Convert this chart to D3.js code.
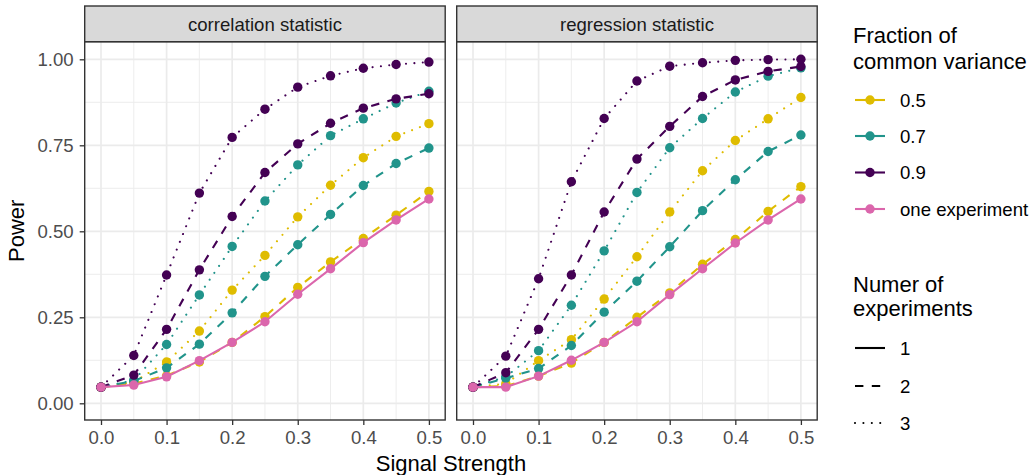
<!DOCTYPE html>
<html>
<head>
<meta charset="utf-8">
<script src="https://cdn.jsdelivr.net/npm/d3@7"></script>
<style>
  body { margin: 0; background: #fff; }
  text { font-family: "Liberation Sans", Arial, sans-serif; }
</style>
</head>
<body>
<svg id="chart" width="1036" height="475" viewBox="0 0 1036 475"></svg>
<script>
// x values (signal strength)
const signal = [0, 0.05, 0.1, 0.15, 0.2, 0.25, 0.3, 0.35, 0.4, 0.45, 0.5];
const panels = ["correlation statistic", "regression statistic"];
const fractions = ["0.5", "0.7", "0.9", "one experiment"];
const fractionColors = ["#DFBC00", "#21948B", "#440154", "#DB66AC"];
const experiments = ["1", "2", "3"];
const yTicks = [0, 0.25, 0.5, 0.75, 1];
const xTicks = [0, 0.1, 0.2, 0.3, 0.4, 0.5];

// correlation statistic
const corr_f05_e2 = [0.047, 0.057, 0.080, 0.120, 0.177, 0.252, 0.337, 0.411, 0.479, 0.547, 0.616];
const corr_f05_e3 = [0.047, 0.062, 0.120, 0.210, 0.329, 0.430, 0.542, 0.634, 0.714, 0.776, 0.813];
const corr_f07_e2 = [0.047, 0.065, 0.103, 0.172, 0.263, 0.369, 0.461, 0.549, 0.633, 0.697, 0.742];
const corr_f07_e3 = [0.047, 0.067, 0.171, 0.315, 0.456, 0.588, 0.693, 0.778, 0.827, 0.873, 0.907];
const corr_f09_e2 = [0.047, 0.082, 0.215, 0.388, 0.543, 0.671, 0.754, 0.814, 0.858, 0.885, 0.900];
const corr_f09_e3 = [0.047, 0.139, 0.373, 0.611, 0.773, 0.855, 0.919, 0.952, 0.974, 0.985, 0.992];
const corr_one_e1 = [0.047, 0.053, 0.077, 0.124, 0.177, 0.237, 0.317, 0.391, 0.467, 0.533, 0.594];

// regression statistic
const regr_f05_e2 = [0.047, 0.050, 0.079, 0.117, 0.177, 0.250, 0.321, 0.404, 0.476, 0.558, 0.630];
const regr_f05_e3 = [0.047, 0.057, 0.124, 0.185, 0.303, 0.426, 0.556, 0.676, 0.764, 0.827, 0.889];
const regr_f07_e2 = [0.047, 0.073, 0.101, 0.168, 0.265, 0.355, 0.455, 0.560, 0.650, 0.732, 0.780];
const regr_f07_e3 = [0.047, 0.077, 0.153, 0.285, 0.443, 0.613, 0.743, 0.828, 0.905, 0.951, 0.975];
const regr_f09_e2 = [0.047, 0.089, 0.215, 0.373, 0.556, 0.710, 0.805, 0.892, 0.940, 0.965, 0.979];
const regr_f09_e3 = [0.047, 0.137, 0.362, 0.644, 0.828, 0.937, 0.980, 0.990, 0.997, 0.999, 1.000];
const regr_one_e1 = [0.047, 0.047, 0.079, 0.125, 0.177, 0.237, 0.316, 0.391, 0.466, 0.533, 0.594];

// draw order follows ggplot grouping
const series = [
  {panel: 0, fraction: "0.5", exp: "2", values: corr_f05_e2},
  {panel: 0, fraction: "0.5", exp: "3", values: corr_f05_e3},
  {panel: 0, fraction: "0.7", exp: "2", values: corr_f07_e2},
  {panel: 0, fraction: "0.7", exp: "3", values: corr_f07_e3},
  {panel: 0, fraction: "0.9", exp: "2", values: corr_f09_e2},
  {panel: 0, fraction: "0.9", exp: "3", values: corr_f09_e3},
  {panel: 0, fraction: "one experiment", exp: "1", values: corr_one_e1},
  {panel: 1, fraction: "0.5", exp: "2", values: regr_f05_e2},
  {panel: 1, fraction: "0.5", exp: "3", values: regr_f05_e3},
  {panel: 1, fraction: "0.7", exp: "2", values: regr_f07_e2},
  {panel: 1, fraction: "0.7", exp: "3", values: regr_f07_e3},
  {panel: 1, fraction: "0.9", exp: "2", values: regr_f09_e2},
  {panel: 1, fraction: "0.9", exp: "3", values: regr_f09_e3},
  {panel: 1, fraction: "one experiment", exp: "1", values: regr_one_e1}
];

const svg = d3.select("#chart");

const lw = 2.1;
const smallFont = 18.6, titleFont = 22;

let color = d3.scaleOrdinal().domain(fractions).range(fractionColors);
let dash = d3.scaleOrdinal().domain(experiments)
    .range(["none", `${4 * lw},${4 * lw}`, `${lw},${3 * lw}`]);

// panel geometry
const panelLeft = [84.7, 456.7];
const panelWidth = 360.5;
const panelTop = 41.7, panelBottom = 420, stripTop = 6;
const xPad = 16.3;

let y = d3.scaleLinear().domain([0, 1]).range([403.3, 59.3]);

let xScales = panelLeft.map(function(l) {
    return d3.scaleLinear().domain([0, 0.5]).range([l + xPad, l + panelWidth - xPad]);
});

let line_gen = function(x) {
    return d3.line()
        .x(function(d, i) { return x(signal[i]); })
        .y(function(d) { return y(d); });
};

panels.forEach(function(name, p) {
    let x = xScales[p];
    let left = panelLeft[p];
    let g = svg.append("g");

    // panel background + grid
    g.append("rect")
        .attr("x", left).attr("y", panelTop)
        .attr("width", panelWidth).attr("height", panelBottom - panelTop)
        .attr("fill", "#fff");

    let minorY = [0.125, 0.375, 0.625, 0.875];
    let minorX = [0.05, 0.15, 0.25, 0.35, 0.45];
    g.selectAll(".minor-y").data(minorY).enter().append("line")
        .attr("x1", left).attr("x2", left + panelWidth)
        .attr("y1", d => y(d)).attr("y2", d => y(d))
        .attr("stroke", "#EBEBEB").attr("stroke-width", 0.9);
    g.selectAll(".minor-x").data(minorX).enter().append("line")
        .attr("y1", panelTop).attr("y2", panelBottom)
        .attr("x1", d => x(d)).attr("x2", d => x(d))
        .attr("stroke", "#EBEBEB").attr("stroke-width", 0.9);
    g.selectAll(".major-y").data(yTicks).enter().append("line")
        .attr("x1", left).attr("x2", left + panelWidth)
        .attr("y1", d => y(d)).attr("y2", d => y(d))
        .attr("stroke", "#EBEBEB").attr("stroke-width", 1.7);
    g.selectAll(".major-x").data(xTicks).enter().append("line")
        .attr("y1", panelTop).attr("y2", panelBottom)
        .attr("x1", d => x(d)).attr("x2", d => x(d))
        .attr("stroke", "#EBEBEB").attr("stroke-width", 1.7);

    // data
    let sub = series.filter(s => s.panel === p);
    sub.forEach(function(s) {
        g.append("path")
            .datum(s.values)
            .attr("d", line_gen(x))
            .attr("fill", "none")
            .attr("stroke", color(s.fraction))
            .attr("stroke-width", lw)
            .attr("stroke-linecap", s.exp === "3" ? "round" : "butt")
            .attr("stroke-dasharray", s.exp === "3" ? `0.01,${4 * lw}` : dash(s.exp));
        g.selectAll(null).data(s.values).enter().append("circle")
            .attr("cx", (d, i) => x(signal[i]))
            .attr("cy", d => y(d))
            .attr("r", 4.7)
            .attr("fill", color(s.fraction));
    });

    // border
    g.append("rect")
        .attr("x", left).attr("y", panelTop)
        .attr("width", panelWidth).attr("height", panelBottom - panelTop)
        .attr("fill", "none").attr("stroke", "#333").attr("stroke-width", 1.4);

    // strip
    g.append("rect")
        .attr("x", left).attr("y", stripTop)
        .attr("width", panelWidth).attr("height", panelTop - stripTop)
        .attr("fill", "#D9D9D9").attr("stroke", "#333").attr("stroke-width", 1.4);
    g.append("text")
        .attr("x", left + panelWidth / 2).attr("y", 31)
        .attr("text-anchor", "middle")
        .attr("font-size", smallFont).attr("fill", "#1A1A1A")
        .text(name);

    // x axis
    let xAxis = g.append("g")
        .attr("transform", `translate(0,${panelBottom})`)
        .call(d3.axisBottom(x).tickValues(xTicks).tickSize(5).tickPadding(6).tickFormat(d3.format(".1f")));
    xAxis.select(".domain").remove();
    xAxis.selectAll(".tick line").attr("stroke", "#333").attr("stroke-width", 1.3);
    xAxis.selectAll(".tick text").attr("font-size", smallFont).attr("fill", "#4D4D4D")
        .attr("font-family", "Liberation Sans, Arial, sans-serif");
});

// y axis (left panel only)
let yAxis = svg.append("g")
    .attr("transform", `translate(${panelLeft[0]},0)`)
    .call(d3.axisLeft(y).tickValues(yTicks).tickSize(5).tickPadding(6).tickFormat(d3.format(".2f")));
yAxis.select(".domain").remove();
yAxis.selectAll(".tick line").attr("stroke", "#333").attr("stroke-width", 1.3);
yAxis.selectAll(".tick text").attr("font-size", smallFont).attr("fill", "#4D4D4D")
    .attr("font-family", "Liberation Sans, Arial, sans-serif");

// axis titles
svg.append("text")
    .attr("x", (panelLeft[0] + panelLeft[1] + panelWidth) / 2).attr("y", 471)
    .attr("text-anchor", "middle").attr("font-size", titleFont).attr("fill", "#000")
    .text("Signal Strength");
svg.append("text")
    .attr("transform", `translate(24,${(panelTop + panelBottom) / 2}) rotate(-90)`)
    .attr("text-anchor", "middle").attr("font-size", titleFont).attr("fill", "#000")
    .text("Power");

// legends
let legend = svg.append("g");
legend.append("text").attr("x", 853).attr("y", 43).attr("font-size", titleFont).text("Fraction of");
legend.append("text").attr("x", 853).attr("y", 69).attr("font-size", titleFont).text("common variance");

const colorRows = [100, 136, 172.5, 209];
fractions.forEach(function(f, i) {
    let cy = colorRows[i];
    legend.append("line")
        .attr("x1", 855).attr("x2", 885).attr("y1", cy).attr("y2", cy)
        .attr("stroke", color(f)).attr("stroke-width", lw);
    legend.append("circle").attr("cx", 870).attr("cy", cy).attr("r", 4.7).attr("fill", color(f));
    legend.append("text").attr("x", 900).attr("y", cy + 6.5).attr("font-size", smallFont).attr("fill", "#000").text(f);
});

legend.append("text").attr("x", 853).attr("y", 292).attr("font-size", titleFont).text("Numer of");
legend.append("text").attr("x", 853).attr("y", 316).attr("font-size", titleFont).text("experiments");

const typeRows = [348, 386, 423];
experiments.forEach(function(e, i) {
    let cy = typeRows[i];
    legend.append("line")
        .attr("x1", 855).attr("x2", 885).attr("y1", cy).attr("y2", cy)
        .attr("stroke", "#000").attr("stroke-width", lw)
        .attr("stroke-linecap", e === "3" ? "round" : "butt")
        .attr("stroke-dasharray", e === "3" ? `0.01,${4 * lw}` : dash(e));
    legend.append("text").attr("x", 900).attr("y", cy + 6.5).attr("font-size", smallFont).attr("fill", "#000").text(e);
});
</script>
</body>
</html>
